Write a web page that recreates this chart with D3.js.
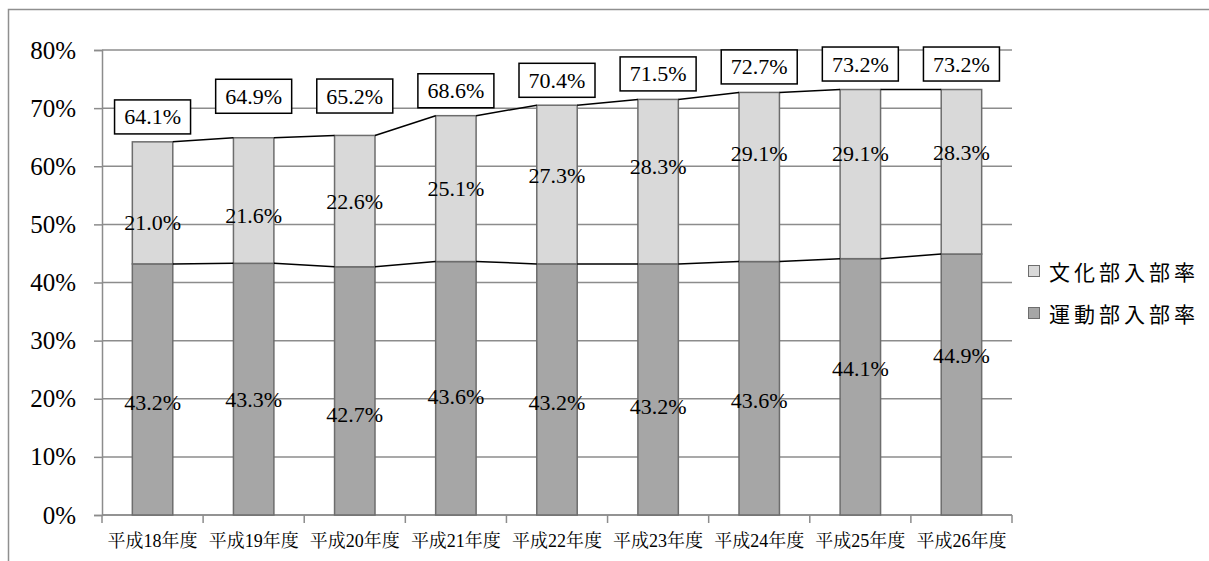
<!DOCTYPE html>
<html>
<head>
<meta charset="utf-8">
<script src="https://cdn.jsdelivr.net/npm/d3@7"></script>
<style>
  html, body { margin: 0; padding: 0; background: #fff; }
  svg { display: block; }
</style>
</head>
<body>
<svg id="chart" width="1209" height="561"></svg>
<script>
// School years (Heisei 18–26)
const categories = ["平成18年度", "平成19年度", "平成20年度", "平成21年度", "平成22年度",
                    "平成23年度", "平成24年度", "平成25年度", "平成26年度"];
// Sports club participation rate (%)
const sports = [43.2, 43.3, 42.7, 43.6, 43.2, 43.2, 43.6, 44.1, 44.9];
// Culture club participation rate (%)
const culture = [21.0, 21.6, 22.6, 25.1, 27.3, 28.3, 29.1, 29.1, 28.3];
// Overall participation rate (%)
const totals = [64.1, 64.9, 65.2, 68.6, 70.4, 71.5, 72.7, 73.2, 73.2];
const yTicks = [0, 10, 20, 30, 40, 50, 60, 70, 80];
const seriesNames = ["文化部入部率", "運動部入部率"];

// Hand-placed label nudges (pixels, relative to default spots)
const sportsNudge  = [12.6, 10, 24, 8, 12.6, 16.6, 12.7, -18, -29.5];
const cultureNudge = [20, 14.5, 0, 0, -8.6, -14.7, -24, -21, -19];
const totalNudge   = [0, -16, -14.5, 0, 0, 0, 0, 0, 0];

const colors = { culture: "#d9d9d9", sports: "#a6a6a6", edge: "#6d6d6d", grid: "#8c8c8c" };
const numFont = '"Liberation Serif", "Times New Roman", Tinos, "Noto Serif CJK JP", serif';
const catFont = '"Liberation Serif", "Noto Serif CJK JP", "Noto Sans CJK JP", serif';
const legFont = '"Noto Sans CJK JP", sans-serif';

const svg = d3.select("#chart");

// Outer chart frame
svg.append("rect")
  .attr("x", 8.5).attr("y", 9.5).attr("width", 1220).attr("height", 570)
  .attr("fill", "none").attr("stroke", "#8f8f8f").attr("stroke-width", 1.5);

const x = d3.scaleBand().domain(categories).range([102, 1012])
  .paddingInner(0.6).paddingOuter(0.3);
const y = d3.scaleLinear().domain([0, 80]).range([515, 50]);
const bw = x.bandwidth();
const step = x.step();

// Gridlines
svg.append("g").selectAll("line").data(yTicks).join("line")
  .attr("x1", 102).attr("x2", 1012)
  .attr("y1", d => y(d)).attr("y2", d => y(d))
  .attr("stroke", colors.grid).attr("stroke-width", 1.5);

// Y axis
const yAxis = svg.append("g").attr("transform", "translate(102,0)")
  .call(d3.axisLeft(y).tickValues(yTicks).tickSize(8).tickPadding(18)
    .tickFormat(d => d + "%"));
yAxis.attr("font-family", null).attr("font-size", null);
yAxis.select(".domain").attr("stroke", colors.grid).attr("stroke-width", 1.5);
yAxis.selectAll(".tick line").attr("stroke", colors.grid).attr("stroke-width", 1.5);
yAxis.selectAll(".tick text")
  .style("font-family", numFont).style("font-size", "25px").attr("fill", "#000");

// X axis line with ticks at category boundaries
const gx = svg.append("g");
gx.append("line").attr("x1", 102).attr("x2", 1012).attr("y1", y(0)).attr("y2", y(0))
  .attr("stroke", colors.grid).attr("stroke-width", 1.5);
const bounds = categories.map(c => x(c) - (step - bw) / 2).concat([1012]);
gx.selectAll("line.tk").data(bounds).join("line").attr("class", "tk")
  .attr("x1", d => d).attr("x2", d => d).attr("y1", y(0)).attr("y2", y(0) + 8)
  .attr("stroke", colors.grid).attr("stroke-width", 1.5);
gx.selectAll("text").data(categories).join("text")
  .attr("x", d => x(d) + bw / 2).attr("y", 541)
  .attr("text-anchor", "middle").attr("dominant-baseline", "central")
  .style("font-family", catFont).style("font-size", "18px").attr("fill", "#000")
  .text(d => d);

// Stacked bars
const rows = categories.map((c, i) => ({ c, s: sports[i], k: culture[i], t: totals[i], i }));
const bars = svg.append("g");
bars.selectAll("rect.sp").data(rows).join("rect").attr("class", "sp")
  .attr("x", d => x(d.c)).attr("width", bw)
  .attr("y", d => y(d.s)).attr("height", d => y(0) - y(d.s))
  .attr("fill", colors.sports).attr("stroke", colors.edge).attr("stroke-width", 1.5);
bars.selectAll("rect.cu").data(rows).join("rect").attr("class", "cu")
  .attr("x", d => x(d.c)).attr("width", bw)
  .attr("y", d => y(d.s + d.k)).attr("height", d => y(d.s) - y(d.s + d.k))
  .attr("fill", colors.culture).attr("stroke", colors.edge).attr("stroke-width", 1.5);

// Series lines joining segment tops
const lineG = svg.append("g");
function seriesLine(vals) {
  lineG.selectAll(null).data(d3.pairs(rows)).join("line")
    .attr("x1", d => x(d[0].c) + bw).attr("y1", d => y(vals(d[0])))
    .attr("x2", d => x(d[1].c)).attr("y2", d => y(vals(d[1])))
    .attr("stroke", "#000").attr("stroke-width", 1.5);
}
seriesLine(d => d.s);
seriesLine(d => d.s + d.k);

// Segment value labels
const labG = svg.append("g");
function segLabels(yOf, txt) {
  labG.selectAll(null).data(rows).join("text")
    .attr("x", d => x(d.c) + bw / 2).attr("y", yOf)
    .attr("text-anchor", "middle").attr("dominant-baseline", "central")
    .style("font-family", numFont).style("font-size", "22px").attr("fill", "#000")
    .text(txt);
}
segLabels(d => y(d.s / 2) + sportsNudge[d.i], d => d.s.toFixed(1) + "%");
segLabels(d => y(d.s + d.k / 2) + cultureNudge[d.i], d => d.k.toFixed(1) + "%");

// Boxed total labels
const boxG = svg.append("g");
rows.forEach(d => {
  const cx = x(d.c) + bw / 2;
  const cy = y(d.t) - 25.5 + totalNudge[d.i];
  const g = boxG.append("g");
  g.append("rect")
    .attr("x", cx - 38).attr("y", cy - 17).attr("width", 76).attr("height", 34)
    .attr("fill", "#fff").attr("stroke", "#000").attr("stroke-width", 1.5);
  g.append("text").attr("x", cx).attr("y", cy)
    .attr("text-anchor", "middle").attr("dominant-baseline", "central")
    .style("font-family", numFont).style("font-size", "22px").attr("fill", "#000")
    .text(d.t.toFixed(1) + "%");
});

// Legend
const legend = svg.append("g");
const legendColors = [colors.culture, colors.sports];
seriesNames.forEach((name, i) => {
  const ly = 271 + i * 42;
  legend.append("rect").attr("x", 1028.5).attr("y", ly - 5.5).attr("width", 11).attr("height", 11)
    .attr("fill", legendColors[i]).attr("stroke", colors.edge).attr("stroke-width", 1);
  legend.append("text").attr("x", 1049).attr("y", ly)
    .attr("dominant-baseline", "central")
    .style("font-family", legFont).style("font-size", "21px").style("letter-spacing", "4px")
    .attr("fill", "#000")
    .text(name);
});
</script>
</body>
</html>
